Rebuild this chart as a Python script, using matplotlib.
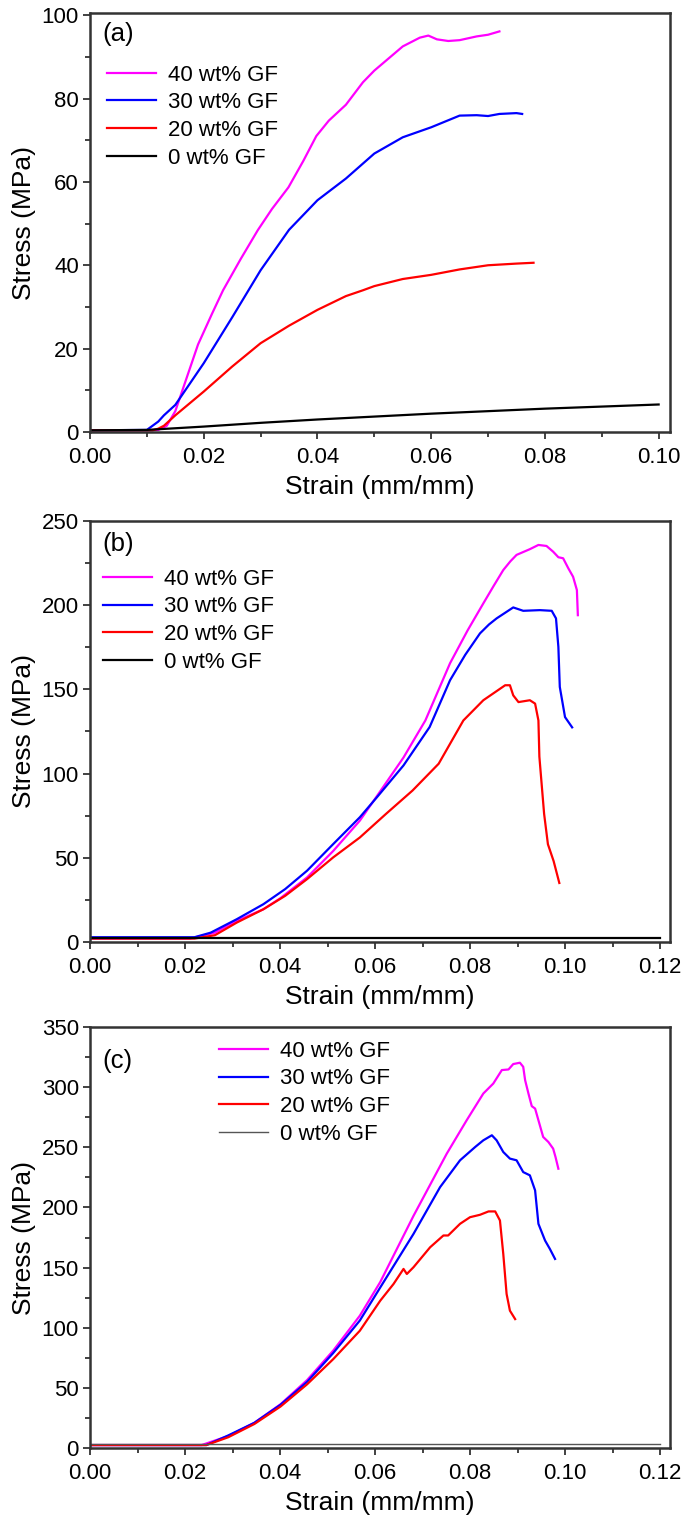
import matplotlib
matplotlib.use('Agg')
import matplotlib.pyplot as plt
from matplotlib.ticker import MultipleLocator, FormatStrFormatter

plt.rcParams['font.family'] = ['Liberation Sans', 'DejaVu Sans']

labels = ['40 wt% GF', '30 wt% GF', '20 wt% GF', '0 wt% GF']
colors = ['#ff00ff', '#0000ff', '#ff0000', '#000000']

# ---- panel (a) ----
a40_x = [0.0, 0.010, 0.012, 0.0135, 0.015, 0.017, 0.019, 0.0215, 0.0234, 0.0265, 0.0295, 0.032,
         0.0349, 0.0375, 0.0398, 0.042, 0.045, 0.048, 0.050, 0.055, 0.058, 0.0595, 0.061,
         0.063, 0.065, 0.068, 0.070, 0.072]
a40_y = [0.4, 0.4, 0.5, 1.5, 5.0, 13.0, 21.0, 28.5, 34.0, 41.5, 48.4, 53.5,
         58.7, 65.0, 71.0, 74.7, 78.5, 83.9, 86.7, 92.5, 94.6, 95.1, 94.2,
         93.8, 94.0, 94.9, 95.3, 96.1]
a30_x = [0.0, 0.010, 0.012, 0.013, 0.015, 0.017, 0.020, 0.025, 0.030, 0.035, 0.040, 0.045,
         0.050, 0.055, 0.060, 0.065, 0.068, 0.070, 0.072, 0.075, 0.076]
a30_y = [0.4, 0.5, 2.5, 4.0, 6.5, 10.5, 16.5, 27.5, 38.8, 48.5, 55.6, 60.8,
         66.8, 70.7, 73.1, 75.9, 76.0, 75.8, 76.3, 76.5, 76.3]
a20_x = [0.0, 0.011, 0.012, 0.013, 0.015, 0.020, 0.025, 0.030, 0.035, 0.040, 0.045,
         0.048, 0.050, 0.055, 0.060, 0.065, 0.070, 0.075, 0.078]
a20_y = [0.4, 0.4, 0.8, 1.5, 4.0, 9.7, 15.7, 21.3, 25.5, 29.3, 32.6,
         34.0, 35.0, 36.7, 37.7, 39.0, 40.0, 40.4, 40.6]
a0_x = [0.0, 0.010, 0.020, 0.030, 0.040, 0.050, 0.060, 0.070, 0.080, 0.090, 0.100]
a0_y = [0.4, 0.5, 1.3, 2.2, 3.0, 3.7, 4.4, 5.0, 5.6, 6.1, 6.6]

# ---- panel (b) ----
b40_x = [0.0, 0.021, 0.0263, 0.0309, 0.0365, 0.0401, 0.0457, 0.0512, 0.0568, 0.0605, 0.066,
         0.0706, 0.0732, 0.0758, 0.0795, 0.0828, 0.0850, 0.0870, 0.0885, 0.0898, 0.0926,
         0.0944, 0.0961, 0.0975, 0.0986, 0.0996, 0.1007, 0.1017, 0.1025, 0.1027]
b40_y = [2.0, 2.0, 5.5, 12.5, 19.4, 26.0, 38.3, 54.0, 72.0, 87.0, 109.5,
         131.5, 148.5, 165.5, 185.0, 201.0, 211.5, 220.8, 226.0, 229.8, 233.2,
         235.7, 235.1, 231.7, 228.4, 227.8, 221.8, 216.8, 208.9, 194.0]
b30_x = [0.0, 0.022, 0.0254, 0.0309, 0.0365, 0.0411, 0.0457, 0.0512, 0.0568, 0.0604, 0.066,
         0.0715, 0.0758, 0.0790, 0.0821, 0.0840, 0.0856, 0.0891, 0.0912, 0.0947, 0.0972,
         0.0981, 0.0986, 0.0989, 0.1000, 0.1015]
b30_y = [2.8, 2.8, 5.5, 13.5, 22.4, 31.4, 42.3, 58.1, 74.0, 85.9, 104.8,
         127.6, 155.4, 170.5, 183.2, 188.5, 192.1, 198.6, 196.6, 197.0, 196.6,
         192.1, 175.2, 151.4, 133.5, 127.4]
b20_x = [0.0, 0.022, 0.0263, 0.0309, 0.0365, 0.0411, 0.0457, 0.0512, 0.0568, 0.0623, 0.0679,
         0.0734, 0.0786, 0.0828, 0.0874, 0.0884, 0.0891, 0.0902, 0.0926, 0.0937, 0.0944,
         0.0946, 0.0956, 0.0964, 0.0976, 0.0988]
b20_y = [2.0, 2.0, 4.0, 11.5, 19.4, 27.4, 37.3, 50.2, 62.0, 76.0, 89.9,
         105.8, 131.5, 143.5, 152.4, 152.4, 146.4, 142.4, 143.5, 141.5, 131.5,
         110.0, 76.0, 58.0, 48.0, 35.0]
b0_x = [0.0, 0.12]
b0_y = [2.4, 2.4]

# ---- panel (c) ----
c40_x = [0.0, 0.0235, 0.0291, 0.0346, 0.0401, 0.0457, 0.0512, 0.0568, 0.0611, 0.0681, 0.0751,
         0.0793, 0.0828, 0.0849, 0.0867, 0.0881, 0.0891, 0.0905, 0.0912, 0.0916, 0.0923,
         0.0930, 0.0937, 0.0944, 0.0954, 0.0965, 0.0975, 0.0980, 0.0986]
c40_y = [2.5, 2.5, 10.0, 21.0, 36.4, 56.5, 81.0, 110.0, 138.0, 193.0, 244.7,
         272.5, 294.7, 303.0, 314.2, 314.7, 319.2, 320.3, 316.9, 305.8, 294.7,
         284.2, 282.2, 272.5, 258.6, 254.4, 248.9, 241.9, 232.2]
c30_x = [0.0, 0.0245, 0.0291, 0.0346, 0.0401, 0.0457, 0.0512, 0.0568, 0.0611, 0.0681, 0.0737,
         0.0779, 0.0811, 0.0828, 0.0846, 0.0856, 0.0870, 0.0884, 0.0898, 0.0912, 0.0926,
         0.0937, 0.0944, 0.0958, 0.0968, 0.0979]
c30_y = [2.5, 2.5, 10.5, 21.0, 36.0, 55.0, 79.0, 106.0, 133.5, 178.0, 216.9,
         239.2, 250.3, 255.8, 260.0, 255.8, 246.1, 240.6, 239.2, 229.4, 226.7,
         214.2, 186.4, 172.5, 165.6, 157.2]
c20_x = [0.0, 0.0245, 0.0291, 0.0346, 0.0401, 0.0457, 0.0512, 0.0568, 0.0611, 0.0639, 0.0660,
         0.0667, 0.0681, 0.0716, 0.0744, 0.0754, 0.0779, 0.0800, 0.0821, 0.0839, 0.0853,
         0.0863, 0.0870, 0.0877, 0.0884, 0.0895]
c20_y = [2.5, 2.5, 9.0, 20.0, 34.5, 53.0, 73.9, 97.5, 122.5, 136.4, 148.9,
         144.7, 150.3, 166.9, 176.7, 176.7, 186.4, 191.9, 193.9, 196.7, 196.7,
         189.2, 161.4, 128.1, 114.2, 107.2]
c0_x = [0.0, 0.12]
c0_y = [3.0, 3.0]

panels = [
    dict(tag='(a)', xs=[a40_x, a30_x, a20_x, a0_x], ys=[a40_y, a30_y, a20_y, a0_y],
         xlim=(0, 0.102), ylim=(0, 100.5), ymajor=20, yminor=10,
         rect=[0.1314, 0.7156, 0.8467, 0.2758], leg=(0.006, 0.909), tagpos=(0.022, 0.95)),
    dict(tag='(b)', xs=[b40_x, b30_x, b20_x, b0_x], ys=[b40_y, b30_y, b20_y, b0_y],
         xlim=(0, 0.1221), ylim=(0, 250), ymajor=50, yminor=25,
         rect=[0.1314, 0.3799, 0.8467, 0.2772], leg=(0.0, 0.918), tagpos=(0.021, 0.945)),
    dict(tag='(c)', xs=[c40_x, c30_x, c20_x, c0_x], ys=[c40_y, c30_y, c20_y, c0_y],
         xlim=(0, 0.1221), ylim=(0, 350), ymajor=50, yminor=25,
         rect=[0.1314, 0.0467, 0.8467, 0.2772], leg=(0.20, 0.999), tagpos=(0.021, 0.919)),
]

fig = plt.figure(figsize=(6.85, 15.19), dpi=100)

for i, p in enumerate(panels):
    ax = fig.add_axes(p['rect'])
    for j in range(4):
        c = colors[j]
        lw = 1.6
        if i == 2 and j == 3:
            c = '#555555'
            lw = 1.0
        ax.plot(p['xs'][j], p['ys'][j], color=c, lw=lw, label=labels[j])
    ax.set_xlim(*p['xlim'])
    ax.set_ylim(*p['ylim'])
    ax.xaxis.set_major_locator(MultipleLocator(0.02))
    ax.xaxis.set_minor_locator(MultipleLocator(0.01))
    ax.xaxis.set_major_formatter(FormatStrFormatter('%.2f'))
    ax.yaxis.set_major_locator(MultipleLocator(p['ymajor']))
    ax.yaxis.set_minor_locator(MultipleLocator(p['yminor']))
    ax.tick_params(which='both', direction='out', top=False, right=False,
                   width=1.3, color='#333333', labelsize=16)
    ax.tick_params(axis='x', pad=6)
    ax.tick_params(axis='y', pad=3)
    ax.tick_params(which='major', length=5)
    ax.tick_params(which='minor', length=3.5)
    for s in ax.spines.values():
        s.set_linewidth(1.8)
        s.set_color('#333333')
    ax.set_xlabel('Strain (mm/mm)', fontsize=19, labelpad=5)
    ax.set_ylabel('Stress (MPa)', fontsize=19, labelpad=4)
    ax.text(p['tagpos'][0], p['tagpos'][1], p['tag'], transform=ax.transAxes, fontsize=18.5,
            va='center', ha='left')
    ax.legend(loc='upper left', bbox_to_anchor=p['leg'], frameon=False, fontsize=16,
              handlelength=2.2, handletextpad=0.55, labelspacing=0.3, borderaxespad=0.2)

fig.savefig('out.png', dpi=100)
